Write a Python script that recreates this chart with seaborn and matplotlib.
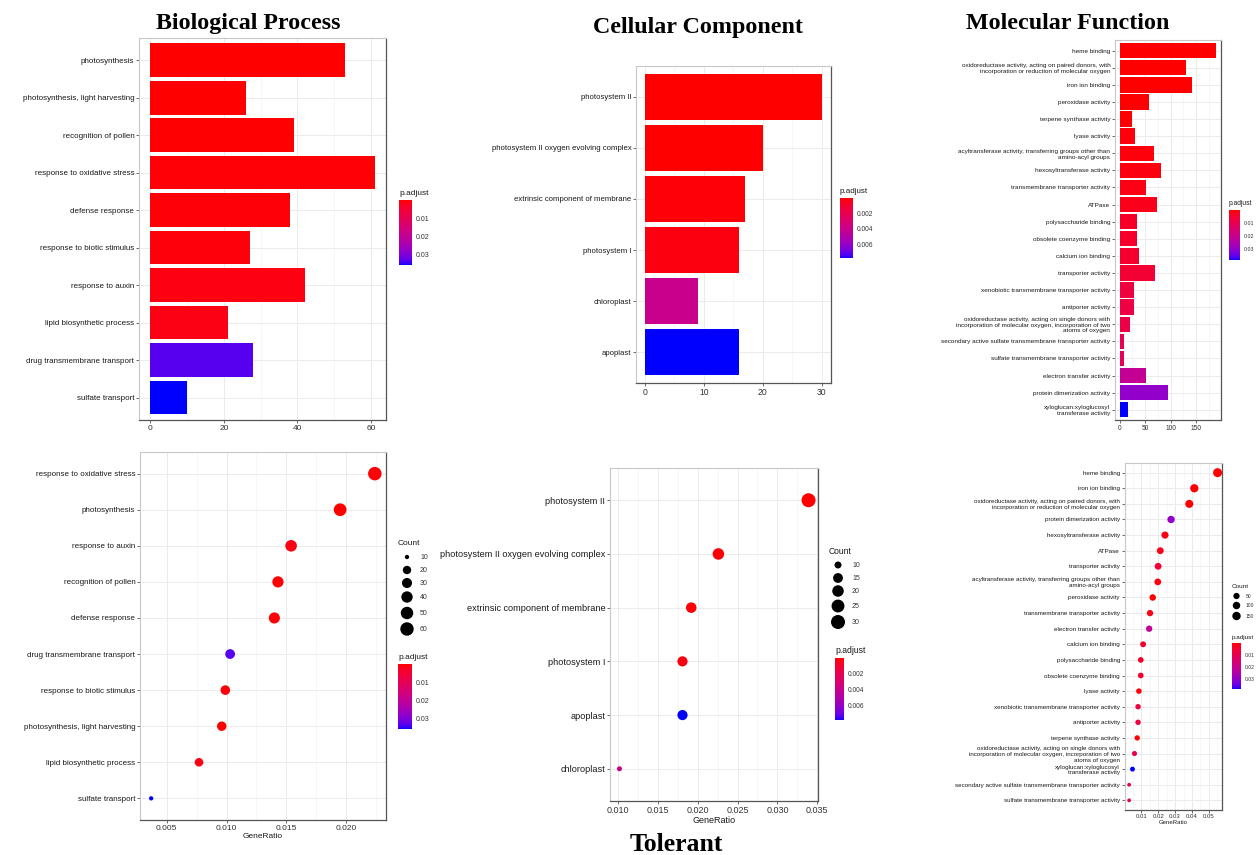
import numpy as np
import pandas as pd
import matplotlib
matplotlib.use("Agg")
import matplotlib.pyplot as plt
from matplotlib.colors import ListedColormap, Normalize
from matplotlib.cm import ScalarMappable
from matplotlib.ticker import MultipleLocator
import seaborn as sns

W, H = 1260, 855

# ---------------- data ----------------
# Biological Process (bar order = ascending p.adjust)
bp_terms = ["photosynthesis", "photosynthesis, light harvesting", "recognition of pollen",
            "response to oxidative stress", "defense response", "response to biotic stimulus",
            "response to auxin", "lipid biosynthetic process", "drug transmembrane transport",
            "sulfate transport"]
bp_count = [53, 26, 39, 61, 38, 27, 42, 21, 28, 10]
bp_padj = [2e-6, 1e-4, 2e-4, 3e-4, 5e-4, 8e-4, 1e-3, 1.4e-3, 0.0335, 0.0360]
bp_ratio = [0.0195, 0.0096, 0.0143, 0.0224, 0.0140, 0.0099, 0.0154, 0.0077, 0.0103, 0.0037]

# Cellular Component
cc_terms = ["photosystem II", "photosystem II oxygen evolving complex",
            "extrinsic component of membrane", "photosystem I", "chloroplast", "apoplast"]
cc_count = [30, 20, 17, 16, 9, 16]
cc_padj = [1e-6, 1e-5, 1e-4, 2e-4, 0.0040, 0.0078]
cc_ratio = [0.0339, 0.0226, 0.0192, 0.0181, 0.0102, 0.0181]

# Molecular Function
mf_terms = ["heme binding",
            "oxidoreductase activity, acting on paired donors, with\nincorporation or reduction of molecular oxygen",
            "iron ion binding", "peroxidase activity", "terpene synthase activity", "lyase activity",
            "acyltransferase activity, transferring groups other than\namino-acyl groups",
            "hexosyltransferase activity", "transmembrane transporter activity", "ATPase",
            "polysaccharide binding", "obsolete coenzyme binding", "calcium ion binding",
            "transporter activity", "xenobiotic transmembrane transporter activity",
            "antiporter activity",
            "oxidoreductase activity, acting on single donors with\nincorporation of molecular oxygen, incorporation of two\natoms of oxygen",
            "secondary active sulfate transmembrane transporter activity",
            "sulfate transmembrane transporter activity", "electron transfer activity",
            "protein dimerization activity", "xyloglucan:xyloglucosyl\ntransferase activity"]
mf_count = [190, 131, 143, 58, 25, 29, 68, 82, 51, 73, 33, 33, 38, 70, 27, 27, 20, 9, 9, 51, 95, 17]
mf_padj = [1e-5, 2e-5, 5e-5, 1e-4, 3e-4, 5e-4, 8e-4, 1e-3, 1.5e-3, 2e-3, 3.5e-3, 4e-3, 4.5e-3,
           5.5e-3, 7e-3, 7.5e-3, 8.5e-3, 0.0105, 0.011, 0.021, 0.030, 0.0385]
mf_ratio = [0.0552, 0.0384, 0.0414, 0.0167, 0.0075, 0.0085, 0.0197, 0.0240, 0.0151, 0.0212,
            0.0096, 0.0096, 0.0110, 0.0199, 0.0080, 0.0080, 0.0059, 0.0027, 0.0027, 0.0146,
            0.0276, 0.0047]

bp_ticks_cb = [0.01, 0.02, 0.03]
cc_ticks_cb = [0.002, 0.004, 0.006]
mf_ticks_cb = [0.01, 0.02, 0.03]
bp_size_levels = [10, 20, 30, 40, 50, 60]
cc_size_levels = [10, 15, 20, 25, 30]
mf_size_levels = [50, 100, 150]


# ---------------- red -> blue gradient interpolated in CIELAB ----------------
_M = np.array([[0.4124, 0.3576, 0.1805], [0.2126, 0.7152, 0.0722], [0.0193, 0.1192, 0.9505]])
_WP = np.array([0.95047, 1.0, 1.08883])


def rgb_to_lab(rgb):
    rgb = np.asarray(rgb, float)
    lin = np.where(rgb <= 0.04045, rgb / 12.92, ((rgb + 0.055) / 1.055) ** 2.4)
    t = (_M @ lin) / _WP
    f = np.where(t > 0.008856, np.cbrt(t), 7.787 * t + 16 / 116)
    return np.array([116 * f[1] - 16, 500 * (f[0] - f[1]), 200 * (f[1] - f[2])])


def lab_to_rgb(lab):
    L, a, b = lab
    fy = (L + 16) / 116
    fx = fy + a / 500
    fz = fy - b / 200
    f = np.array([fx, fy, fz])
    t = np.where(f ** 3 > 0.008856, f ** 3, (f - 16 / 116) / 7.787) * _WP
    lin = np.linalg.solve(_M, t)
    lin = np.clip(lin, 0, 1)
    rgb = np.where(lin <= 0.0031308, 12.92 * lin, 1.055 * lin ** (1 / 2.4) - 0.055)
    return np.clip(rgb, 0, 1)


_lo, _hi = rgb_to_lab([1, 0, 0]), rgb_to_lab([0, 0, 1])
padj_cmap = ListedColormap([lab_to_rgb(_lo + (_hi - _lo) * s) for s in np.linspace(0, 1, 256)])

# ---------------- figure ----------------
sns.set_theme(style="white")
plt.rcParams["font.family"] = ["Liberation Sans", "DejaVu Sans"]
fig = plt.figure(figsize=(W / 100, H / 100), dpi=100)
fig.patch.set_facecolor("white")

TXT = "#333333"


def px_axes(x0, y0, x1, y1):
    return fig.add_axes([x0 / W, 1 - y1 / H, (x1 - x0) / W, (y1 - y0) / H])


def style_panel(ax, ylab_fs, xlab_fs, major, minor):
    ax.set_facecolor("white")
    ax.xaxis.set_major_locator(MultipleLocator(major))
    ax.xaxis.set_minor_locator(MultipleLocator(minor))
    ax.grid(which="major", color="#EBEBEB", lw=0.7)
    ax.grid(which="minor", axis="x", color="#F3F3F3", lw=0.5)
    ax.set_axisbelow(True)
    for side in ("top", "left"):
        ax.spines[side].set_color("#C8C8C8")
        ax.spines[side].set_linewidth(0.8)
    for side in ("right", "bottom"):
        ax.spines[side].set_color("#555555")
        ax.spines[side].set_linewidth(0.9)
    ax.tick_params(axis="y", which="major", labelsize=ylab_fs, length=2.2, width=0.5,
                   color=TXT, labelcolor="#1A1A1A", pad=1.2, left=True)
    ax.tick_params(axis="x", which="major", labelsize=xlab_fs, length=2.2, width=0.5,
                   color=TXT, labelcolor="#333333", pad=1.2, bottom=True)
    ax.tick_params(which="minor", length=0)
    ax.set_ylabel("")
    ax.set_xlabel("")


def bar_panel(rect, terms, count, padj, ylab_fs, xlab_fs, major, minor):
    ax = px_axes(*rect)
    df = pd.DataFrame({"Description": terms, "Count": count, "p.adjust": padj})
    norm = Normalize(min(padj), max(padj))
    pal = {t: padj_cmap(norm(p)) for t, p in zip(terms, padj)}
    sns.barplot(data=df, x="Count", y="Description", hue="Description", palette=pal,
                legend=False, width=0.9, orient="h", saturation=1, errorbar=None,
                linewidth=0, ax=ax)
    n = len(terms)
    mx = max(count)
    ax.set_xlim(-0.05 * mx, 1.05 * mx)
    ax.set_ylim(n - 0.4, -0.6)
    style_panel(ax, ylab_fs, xlab_fs, major, minor)
    return ax


def size_fn(dmin, dmax, vmin, vmax):
    def f(v):
        d = dmin + (dmax - dmin) * np.sqrt(np.clip((np.asarray(v, float) - vmin) / (vmax - vmin), 0, 1))
        return (d * 0.72) ** 2
    return f


def dot_panel(rect, terms, count, padj, ratio, sfn, ylab_fs, xlab_fs, major, minor):
    ax = px_axes(*rect)
    df = pd.DataFrame({"Description": terms, "Count": count, "p.adjust": padj, "GeneRatio": ratio})
    df = df.sort_values("GeneRatio", ascending=False, kind="mergesort").reset_index(drop=True)
    sizes = {c: float(sfn(c)) for c in df["Count"].unique()}
    sns.scatterplot(data=df, x="GeneRatio", y="Description", hue="p.adjust", palette=padj_cmap,
                    hue_norm=(min(padj), max(padj)), size="Count", sizes=sizes,
                    legend=False, linewidth=0, ax=ax)
    n = len(terms)
    lo, hi = min(ratio), max(ratio)
    pad = 0.05 * (hi - lo)
    ax.set_xlim(lo - pad, hi + pad)
    ax.set_ylim(n - 0.4, -0.6)
    style_panel(ax, ylab_fs, xlab_fs, major, minor)
    return ax


def colorbar(rect, padj, ticks, title, title_fs, lab_fs):
    x0, y0, x1, y1 = rect
    cax = px_axes(*rect)
    sm = ScalarMappable(norm=Normalize(min(padj), max(padj)), cmap=padj_cmap)
    cb = fig.colorbar(sm, cax=cax)
    cb.outline.set_visible(False)
    cax.invert_yaxis()
    cb.set_ticks(ticks)
    cb.set_ticklabels([f"{t:g}" for t in ticks])
    cax.yaxis.set_ticks_position("both")
    cax.yaxis.set_label_position("right")
    cax.tick_params(axis="y", which="both", direction="in", length=2, width=0.6,
                    color="white", labelsize=lab_fs, labelcolor=TXT, pad=2.5,
                    labelleft=False, labelright=True)
    cax.minorticks_off()
    fig.text(x0 / W, 1 - (y0 - 3) / H, title, fontsize=title_fs, color="#1A1A1A",
             ha="left", va="bottom")


# ---- top row: bar charts ----
bar_panel((139, 37.7, 386, 420), bp_terms, bp_count, bp_padj, 5.8, 6.0, 20, 10)
bar_panel((636, 66, 830.5, 383), cc_terms, cc_count, cc_padj, 5.6, 6.2, 10, 5)
bar_panel((1115, 40.4, 1221, 420), mf_terms, mf_count, mf_padj, 4.6, 4.8, 50, 25)

colorbar((399, 200, 412, 265), bp_padj, bp_ticks_cb, "p.adjust", 6.0, 5.0)
colorbar((840, 198, 853, 258), cc_padj, cc_ticks_cb, "p.adjust", 5.8, 4.8)
colorbar((1229, 210, 1240, 260), mf_padj, mf_ticks_cb, "p.adjust", 4.8, 3.8)

# ---- bottom row: dot charts ----
bp_sfn = size_fn(4.3, 13.5, min(bp_count), max(bp_count))
cc_sfn = size_fn(5.0, 14.0, min(cc_count), max(cc_count))
mf_sfn = size_fn(3.8, 9.0, min(mf_count), max(mf_count))

ax = dot_panel((140, 452, 386, 820), bp_terms, bp_count, bp_padj, bp_ratio, bp_sfn, 5.8, 6.0, 0.005, 0.0025)
ax.set_xlabel("GeneRatio", fontsize=6.0, color="#1A1A1A", labelpad=1)
ax = dot_panel((610, 468, 818, 801), cc_terms, cc_count, cc_padj, cc_ratio, cc_sfn, 6.6, 6.5, 0.005, 0.0025)
ax.set_xlabel("GeneRatio", fontsize=6.5, color="#1A1A1A", labelpad=1)
ax = dot_panel((1124.7, 463.3, 1222, 809.7), mf_terms, mf_count, mf_padj, mf_ratio, mf_sfn, 4.5, 4.3, 0.01, 0.005)
ax.set_xlabel("GeneRatio", fontsize=4.3, color="#1A1A1A", labelpad=0.5)

colorbar((398, 664, 412, 729), bp_padj, bp_ticks_cb, "p.adjust", 6.0, 5.0)
colorbar((835, 658, 844, 720), cc_padj, cc_ticks_cb, "p.adjust", 6.2, 4.8)
colorbar((1232, 643, 1241, 689), mf_padj, mf_ticks_cb, "p.adjust", 4.6, 3.6)

# ---- overlay for size legends and titles (pixel coordinates) ----
ov = fig.add_axes([0, 0, 1, 1])
ov.set_xlim(0, W)
ov.set_ylim(H, 0)
ov.axis("off")


def size_legend(levels, ys, xdot, xlab, xtitle, ytitle, sfn, title_fs, lab_fs):
    ov.text(xtitle, ytitle, "Count", fontsize=title_fs, color="#1A1A1A", ha="left", va="center")
    ov.scatter([xdot] * len(levels), ys, s=[float(sfn(v)) for v in levels], color="black", linewidths=0)
    for v, y in zip(levels, ys):
        ov.text(xlab, y, str(v), fontsize=lab_fs, color=TXT, ha="left", va="center")


size_legend(bp_size_levels, [557, 570, 583, 597, 613, 629], 407, 420, 398, 543, bp_sfn, 6.0, 5.0)
size_legend(cc_size_levels, [565, 578, 591, 606, 622], 838, 852, 829, 551, cc_sfn, 6.2, 5.0)
size_legend(mf_size_levels, [596, 605.5, 616], 1236.5, 1246, 1232, 586, mf_sfn, 4.6, 3.6)

serif = ["Liberation Serif", "DejaVu Serif"]
ov.text(248, 29, "Biological Process", family=serif, fontsize=17.3, fontweight="bold",
        ha="center", va="baseline", color="black")
ov.text(698, 33, "Cellular Component", family=serif, fontsize=17.3, fontweight="bold",
        ha="center", va="baseline", color="black")
ov.text(1068, 29, "Molecular Function", family=serif, fontsize=17.3, fontweight="bold",
        ha="center", va="baseline", color="black")
ov.text(676, 851, "Tolerant", family=serif, fontsize=18.5, fontweight="bold",
        ha="center", va="baseline", color="black")

fig.savefig("out.png", dpi=100, facecolor="white")
